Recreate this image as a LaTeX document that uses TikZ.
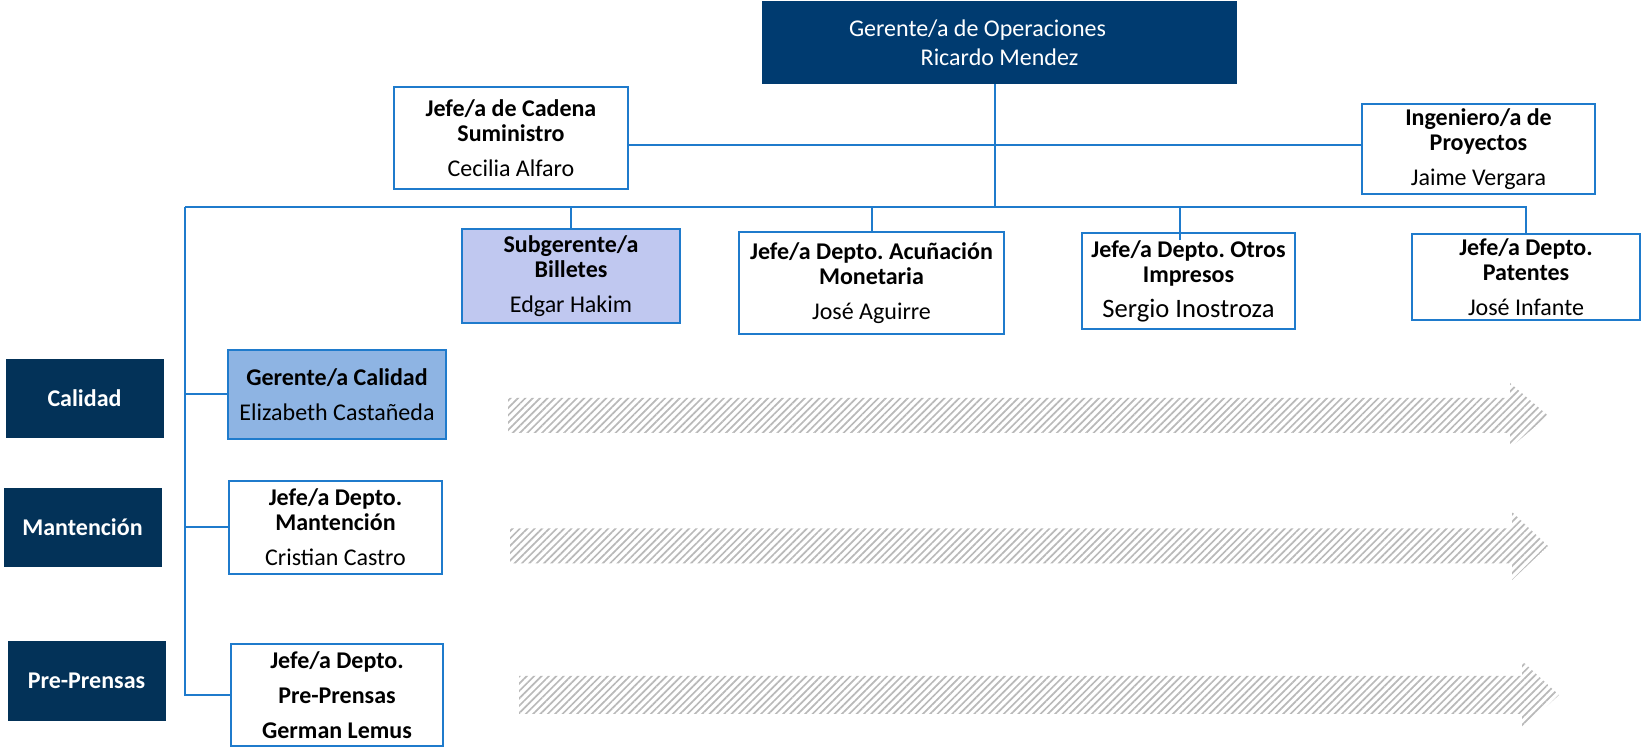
\documentclass[tikz,border=0pt]{standalone}
\usepackage{fontspec}
\setmainfont{Carlito}
\frenchspacing
\usetikzlibrary{calc,patterns.meta}
\definecolor{linea}{RGB}{31,123,204}
\definecolor{marino}{RGB}{0,59,112}
\definecolor{marinod}{RGB}{3,50,88}
\definecolor{lavanda}{RGB}{192,200,240}
\definecolor{celeste}{RGB}{142,180,227}
\begin{document}
\begin{tikzpicture}[x=0.5pt,y=-0.5pt,
  every node/.style={inner sep=0pt,align=center},
  cargo/.style 2 args={draw=linea,line width=1pt,fill=white,
    minimum width=#1*0.5pt,minimum height=#2*0.5pt,
    font=\fontsize{12}{12.5}\selectfont},
  area/.style={fill=marinod,text=white,minimum width=158*0.5pt,
    minimum height=79*0.5pt,font=\fontsize{12}{12.5}\selectfont\bfseries}
]

\tikzstyle{conector}=[draw=linea,line width=1pt]
\tikzstyle{flecha}=[pattern={Lines[angle=45,distance=2.6pt,line width=0.85pt]},
  pattern color=gray!55]

\useasboundingbox (0,0) rectangle (1643,747);

% gerencia
\node [fill=marino,text=white,minimum width=475*0.5pt,minimum height=83*0.5pt,
  font=\fontsize{12}{14.5}\selectfont] (gerop) at (999.5,42.5)
  {Gerente/a de Operaciones\hspace*{22pt}\\Ricardo Mendez};

\node [cargo={234}{102}] (cadena) at (511,138)
  {\textbf{Jefe/a de Cadena}\\\textbf{Suministro}\\[5pt]Cecilia Alfaro};
\node [cargo={233}{90}] (proyectos) at (1478.5,149)
  {\textbf{Ingeniero/a de}\\\textbf{Proyectos}\\[5pt]Jaime Vergara};

% departamentos
\node [cargo={218}{94},fill=lavanda] (billetes) at (571,276)
  {\textbf{Subgerente/a}\\\textbf{Billetes}\\[5pt]Edgar Hakim};
\node [cargo={265}{102}] (acunacion) at (871.5,283)
  {\textbf{Jefe/a Depto. Acuñación}\\\textbf{Monetaria}\\[5pt]José Aguirre};
\node [cargo={213}{96}] (otros) at (1188.5,281)
  {\textbf{Jefe/a Depto. Otros}\\\textbf{Impresos}\\[5pt]{\fontsize{13.3}{14}\selectfont Sergio Inostroza}};
\node [cargo={228}{86}] (patentes) at (1526,277)
  {\textbf{Jefe/a Depto.}\\\textbf{Patentes}\\[5pt]José Infante};

% areas
\node [area] (calidad) at (84.5,398.5) {Calidad};
\node [area] (mantlbl) at (82.5,527.5) {Mantención};
\node [area] (prelbl) at (86.5,681) {Pre-Prensas};

\node [cargo={218}{89},fill=celeste] (gcalidad) at (337,394.5)
  {\textbf{Gerente/a Calidad}\\[5pt]Elizabeth Castañeda};
\node [cargo={213}{93}] (mantencion) at (335.5,527.5)
  {\textbf{Jefe/a Depto.}\\\textbf{Mantención}\\[5pt]Cristian Castro};
\node [cargo={212}{102},font=\fontsize{12}{12.5}\selectfont\bfseries] (prensas) at (337,695)
  {Jefe/a Depto.\\[5pt]Pre-Prensas\\[5pt]German Lemus};

% lineas
\coordinate (busL) at (185,207);
\coordinate (busR) at (1527,207);
\coordinate (opbase) at ($(gerop.south)+(-5,0)$);
\coordinate (cadsal) at ($(cadena.east)+(0,7)$);
\coordinate (otrent) at ($(otros.north)+(-9,8)$);

\path [conector] (busL) -- (busR);
\path [conector] (opbase) -- (opbase |- busL);
\path [conector] (cadsal) -- (cadsal -| proyectos.west);
\path [conector] (billetes.north |- busL) -- (billetes.north);
\path [conector] (acunacion.north |- busL) -- (acunacion.north);
\path [conector] (otrent |- busL) -- (otrent);
\path [conector] (patentes.north |- busL) -- (patentes.north);
\path [conector] (busL) -- (busL |- prensas.west) -- (prensas.west);
\path [conector] (busL |- gcalidad.west) -- (gcalidad.west);
\path [conector] (busL |- mantencion.west) -- (mantencion.west);

% flechas
\foreach \cy/\xa/\xb/\xc/\bw/\hw in {415.5/508/1510/1548/17.5/32.5,
    546/510/1512/1548/17.5/34, 695/519/1522/1559/19/34}
  \fill [flecha] (\xa,\cy-\bw) -- (\xb,\cy-\bw) -- (\xb,\cy-\hw) -- (\xc,\cy)
    -- (\xb,\cy+\hw) -- (\xb,\cy+\bw) -- (\xa,\cy+\bw) -- cycle;
\end{tikzpicture}
\end{document}
